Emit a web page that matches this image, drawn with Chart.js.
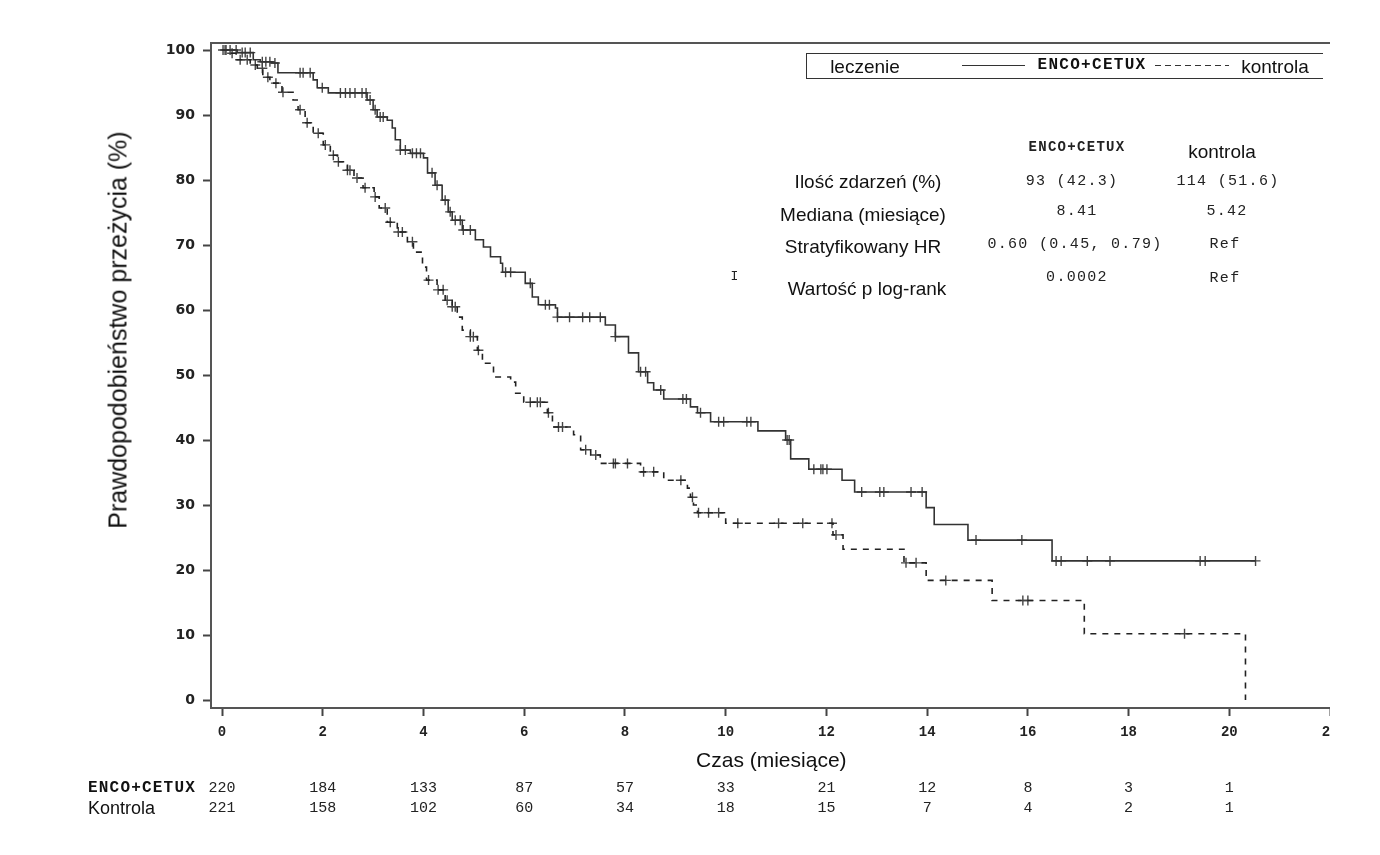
<!DOCTYPE html>
<html>
<head>
<meta charset="utf-8">
<script src="https://cdn.jsdelivr.net/npm/chart.js@4.4.0/dist/chart.umd.min.js"></script>
<style>
body { margin: 0; background: #fff; }
#wrap { position: relative; width: 1330px; height: 855px; overflow: hidden; }
#wrap canvas { position: absolute; left: 0; top: 0; }
.t { position: absolute; white-space: nowrap; color: #111; line-height: 1; transform: translate(-50%, -50%); }
.arial { font-family: "Liberation Sans", Arial, sans-serif; font-size: 19px; }
.mono { font-family: "Liberation Mono", "Courier New", monospace; font-size: 15px; letter-spacing: 1.3px; color: #222; }
.b { font-weight: bold; }
#legbox { position: absolute; left: 806px; top: 53px; width: 516px; height: 24px; border: 1px solid #333; border-right: none; }
.sample { position: absolute; top: 65px; height: 1px; background: #333; }
.dash { background: repeating-linear-gradient(90deg, #333 0 6px, transparent 6px 10px); }
</style>
</head>
<body>
<div id="wrap">
  <canvas id="km" width="1338" height="830"></canvas>
  <div id="legbox"></div>
  <div class="sample" style="left:962px;width:63px;"></div>
  <div class="sample dash" style="left:1155px;width:74px;"></div>
</div>
<script>
// czas (miesiace) / prawdopodobienstwo przezycia (%)
var encoTime = [0, 0.30, 0.62, 0.76, 0.99, 1.11, 1.81, 1.89, 2.11, 2.88, 3.00, 3.08, 3.28, 3.38, 3.44, 3.54, 3.74, 4.00, 4.08, 4.23,
    4.37, 4.49, 4.57, 4.77, 5.03, 5.19, 5.33, 5.53, 5.57, 6.02, 6.16, 6.28, 6.62, 6.66, 7.61, 7.81, 8.07, 8.27, 8.45, 8.57,
    8.77, 9.30, 9.44, 9.70, 10.64, 11.19, 11.29, 11.65, 12.31, 12.56, 13.98, 14.14, 14.81, 16.48, 20.52];
var encoSurv = [100, 99.6, 98.5, 98.2, 98.0, 96.5, 95.4, 94.2, 93.4, 92.3, 90.8, 89.7, 89.2, 88.0, 86.2, 84.6, 84.1, 83.4, 81.1, 79.2,
    76.9, 75.1, 73.8, 72.3, 70.8, 69.7, 68.2, 67.2, 65.8, 64.1, 62.0, 60.8, 60.3, 58.9, 57.7, 55.9, 53.4, 50.5, 48.8, 47.7,
    46.3, 45.1, 44.2, 42.8, 41.4, 40.0, 37.1, 35.5, 33.8, 32.0, 29.6, 27.0, 24.6, 21.4, 21.4];
var encoCens = [0.02, 0.08, 0.16, 0.28, 0.40, 0.46, 0.56, 0.80, 0.87, 0.95, 1.05, 1.55, 1.61, 1.75, 1.99, 2.35, 2.45, 2.54, 2.64, 2.78,
    2.86, 2.94, 3.04, 3.14, 3.20, 3.54, 3.64, 3.78, 3.86, 3.94, 4.17, 4.27, 4.43, 4.53, 4.63, 4.73, 4.79, 4.93, 5.63, 5.73,
    6.12, 6.42, 6.50, 6.66, 6.90, 7.16, 7.30, 7.51, 7.81, 8.31, 8.41, 8.71, 9.15, 9.22, 9.50, 9.86, 9.96, 10.42, 10.50, 11.22,
    11.26, 11.75, 11.89, 11.93, 12.01, 12.70, 13.06, 13.14, 13.68, 13.90, 14.97, 15.88, 16.56, 16.66, 17.18, 17.63, 19.42, 19.52, 20.52];

var ctrlTime = [0, 0.10, 0.30, 0.56, 0.70, 0.81, 0.95, 1.19, 1.41, 1.51, 1.65, 1.81, 2.01, 2.15, 2.29, 2.49, 2.62, 2.80, 3.02, 3.12,
    3.28, 3.48, 3.68, 3.80, 3.98, 4.06, 4.27, 4.43, 4.57, 4.67, 4.77, 4.93, 5.07, 5.17, 5.39, 5.73, 5.83, 5.99, 6.46, 6.56,
    6.98, 7.12, 7.32, 7.51, 8.31, 8.77, 9.24, 9.30, 9.36, 9.44, 10.00, 12.13, 12.33, 13.54, 13.98, 15.29, 17.12, 20.32];
var ctrlSurv = [100, 99.5, 98.5, 97.7, 97.2, 95.8, 94.9, 93.5, 92.3, 90.8, 88.8, 87.2, 85.4, 83.8, 82.8, 81.5, 80.3, 78.8, 77.4, 75.7,
    73.5, 72.0, 70.5, 68.9, 66.6, 64.6, 63.1, 61.5, 60.5, 58.9, 56.9, 55.9, 53.8, 51.8, 49.7, 48.9, 47.2, 45.8, 44.2, 42.0,
    40.8, 38.5, 37.7, 36.4, 35.1, 33.8, 32.6, 31.2, 30.0, 28.8, 27.2, 25.4, 23.2, 21.1, 18.4, 15.3, 10.2, 0];
var ctrlCens = [0.06, 0.20, 0.36, 0.50, 0.66, 0.80, 0.91, 1.07, 1.21, 1.55, 1.69, 1.91, 2.05, 2.21, 2.31, 2.49, 2.54, 2.68, 2.84, 3.04,
    3.24, 3.34, 3.50, 3.58, 3.78, 4.10, 4.29, 4.39, 4.47, 4.57, 4.63, 4.93, 4.99, 5.09, 6.12, 6.26, 6.32, 6.48, 6.68, 6.76,
    7.22, 7.42, 7.77, 7.81, 8.05, 8.37, 8.57, 9.11, 9.34, 9.46, 9.66, 9.86, 10.24, 11.05, 11.53, 12.11, 12.19, 13.58, 13.78, 14.37,
    15.90, 16.00, 19.11];

var xTicks = [0, 2, 4, 6, 8, 10, 12, 14, 16, 18, 20, 22];
var yTicks = [0, 10, 20, 30, 40, 50, 60, 70, 80, 90, 100];
var riskTimes = [0, 2, 4, 6, 8, 10, 12, 14, 16, 18, 20];
var encoRisk = [220, 184, 133, 87, 57, 33, 21, 12, 8, 3, 1];
var ctrlRisk = [221, 158, 102, 60, 34, 18, 15, 7, 4, 2, 1];

function pts(t, s) {
    return t.map(function(v, i) { return {x: v, y: s[i]}; });
}
function survAt(t, s, x) {
    var k = 0;
    for (var i = 0; i < t.length; i++) if (t[i] <= x) k = i;
    return s[k];
}
function censPts(c, t, s) {
    return c.map(function(v) { return {x: v, y: survAt(t, s, v)}; });
}

function txt(s, x, y, cls, extra) {
    var d = document.createElement('div');
    d.className = 't ' + cls;
    d.textContent = s;
    d.style.left = x + 'px';
    d.style.top = y + 'px';
    if (extra) d.setAttribute('style', d.getAttribute('style') + ';' + extra);
    document.getElementById('wrap').appendChild(d);
}

txt('Prawdopodobieństwo przeżycia (%)', 118, 330, 'arial', 'font-size:25px;transform:translate(-50%,-50%) rotate(-90deg)');
txt('leczenie', 865, 66, 'arial');
txt('ENCO+CETUX', 1092, 65, 'mono b', 'color:#111;font-size:16px');
txt('kontrola', 1275, 66, 'arial');

txt('ENCO+CETUX', 1077, 147, 'mono b', 'font-size:14px');
txt('kontrola', 1222, 151, 'arial');
txt('Ilość zdarzeń (%)', 868, 181, 'arial');
txt('93 (42.3)', 1072, 181, 'mono');
txt('114 (51.6)', 1228, 181, 'mono');
txt('Mediana (miesiące)', 863, 214, 'arial');
txt('8.41', 1077, 211, 'mono');
txt('5.42', 1227, 211, 'mono');
txt('Stratyfikowany HR', 863, 246, 'arial');
txt('0.60 (0.45, 0.79)', 1075, 244, 'mono');
txt('Ref', 1225, 244, 'mono');
txt('I', 735, 276, 'mono', 'font-size:13px');
txt('Wartość p log-rank', 867, 288, 'arial');
txt('0.0002', 1077, 277, 'mono');
txt('Ref', 1225, 278, 'mono');

var frame = {
    id: 'frame',
    afterDraw: function(chart) {
        var ctx = chart.ctx, a = chart.chartArea, x = chart.scales.x;
        ctx.save();
        ctx.strokeStyle = '#555';
        ctx.lineWidth = 2;
        ctx.beginPath();
        ctx.moveTo(a.left - 1, a.top);
        ctx.lineTo(a.right + 8, a.top);
        ctx.stroke();

        // tabela liczby pacjentow
        ctx.fillStyle = '#111';
        ctx.textBaseline = 'middle';
        ctx.textAlign = 'left';
        ctx.font = 'bold 16px "Liberation Mono"';
        ctx.letterSpacing = '1.2px';
        ctx.fillText('ENCO+CETUX', 88, 788);
        ctx.letterSpacing = '0px';
        ctx.font = '18px "Liberation Sans"';
        ctx.fillText('Kontrola', 88, 809);
        ctx.textAlign = 'center';
        ctx.font = '15px "Liberation Mono"';
        ctx.fillStyle = '#222';
        riskTimes.forEach(function(t, i) {
            var px = x.getPixelForValue(t);
            ctx.fillText(String(encoRisk[i]), px, 788);
            ctx.fillText(String(ctrlRisk[i]), px, 808);
        });
        ctx.restore();
    }
};

new Chart(document.getElementById('km'), {
    type: 'line',
    data: {
        datasets: [
            {data: pts(encoTime, encoSurv), stepped: 'before', borderColor: '#333', borderWidth: 1.6, pointRadius: 0},
            {data: pts(ctrlTime, ctrlSurv), stepped: 'before', borderColor: '#222', borderWidth: 1.6, borderDash: [6, 6], pointRadius: 0},
            {data: censPts(encoCens, encoTime, encoSurv), showLine: false, pointStyle: 'cross', pointRadius: 5,
                pointBorderColor: '#444', pointBorderWidth: 1.4, pointHoverRadius: 0},
            {data: censPts(ctrlCens, ctrlTime, ctrlSurv), showLine: false, pointStyle: 'cross', pointRadius: 5,
                pointBorderColor: '#444', pointBorderWidth: 1.4, pointHoverRadius: 0}
        ]
    },
    options: {
        responsive: false,
        animation: false,
        layout: {padding: {top: 43, right: 0, bottom: 50, left: 0}},
        plugins: {legend: {display: false}, tooltip: {enabled: false}},
        scales: {
            x: {
                type: 'linear',
                min: -0.219,
                max: 22.03,
                afterBuildTicks: function(s) { s.ticks = xTicks.map(function(v) { return {value: v}; }); },
                afterFit: function(s) { s.height = 72; s.paddingLeft = 0; s.paddingRight = 0; },
                ticks: {font: {family: 'Liberation Mono', weight: 'bold', size: 14}, color: '#222', padding: 8, autoSkip: false, maxRotation: 0},
                grid: {drawOnChartArea: false, tickLength: 8, tickColor: '#444', tickWidth: 2},
                border: {color: '#555', width: 2},
                title: {display: true, text: 'Czas (miesiące)', font: {family: 'Liberation Sans', size: 21}, color: '#111', padding: {top: 0, bottom: 6}}
            },
            y: {
                min: -1.23,
                max: 101.08,
                afterBuildTicks: function(s) { s.ticks = yTicks.map(function(v) { return {value: v}; }); },
                afterFit: function(s) { s.width = 211; s.paddingTop = 0; s.paddingBottom = 0; },
                ticks: {font: {family: 'DejaVu Sans', weight: 'bold', size: 14}, color: '#222', padding: 8},
                grid: {drawOnChartArea: false, tickLength: 8, tickColor: '#444', tickWidth: 2},
                border: {color: '#555', width: 2}
            }
        }
    },
    plugins: [frame]
});
</script>
</body>
</html>
